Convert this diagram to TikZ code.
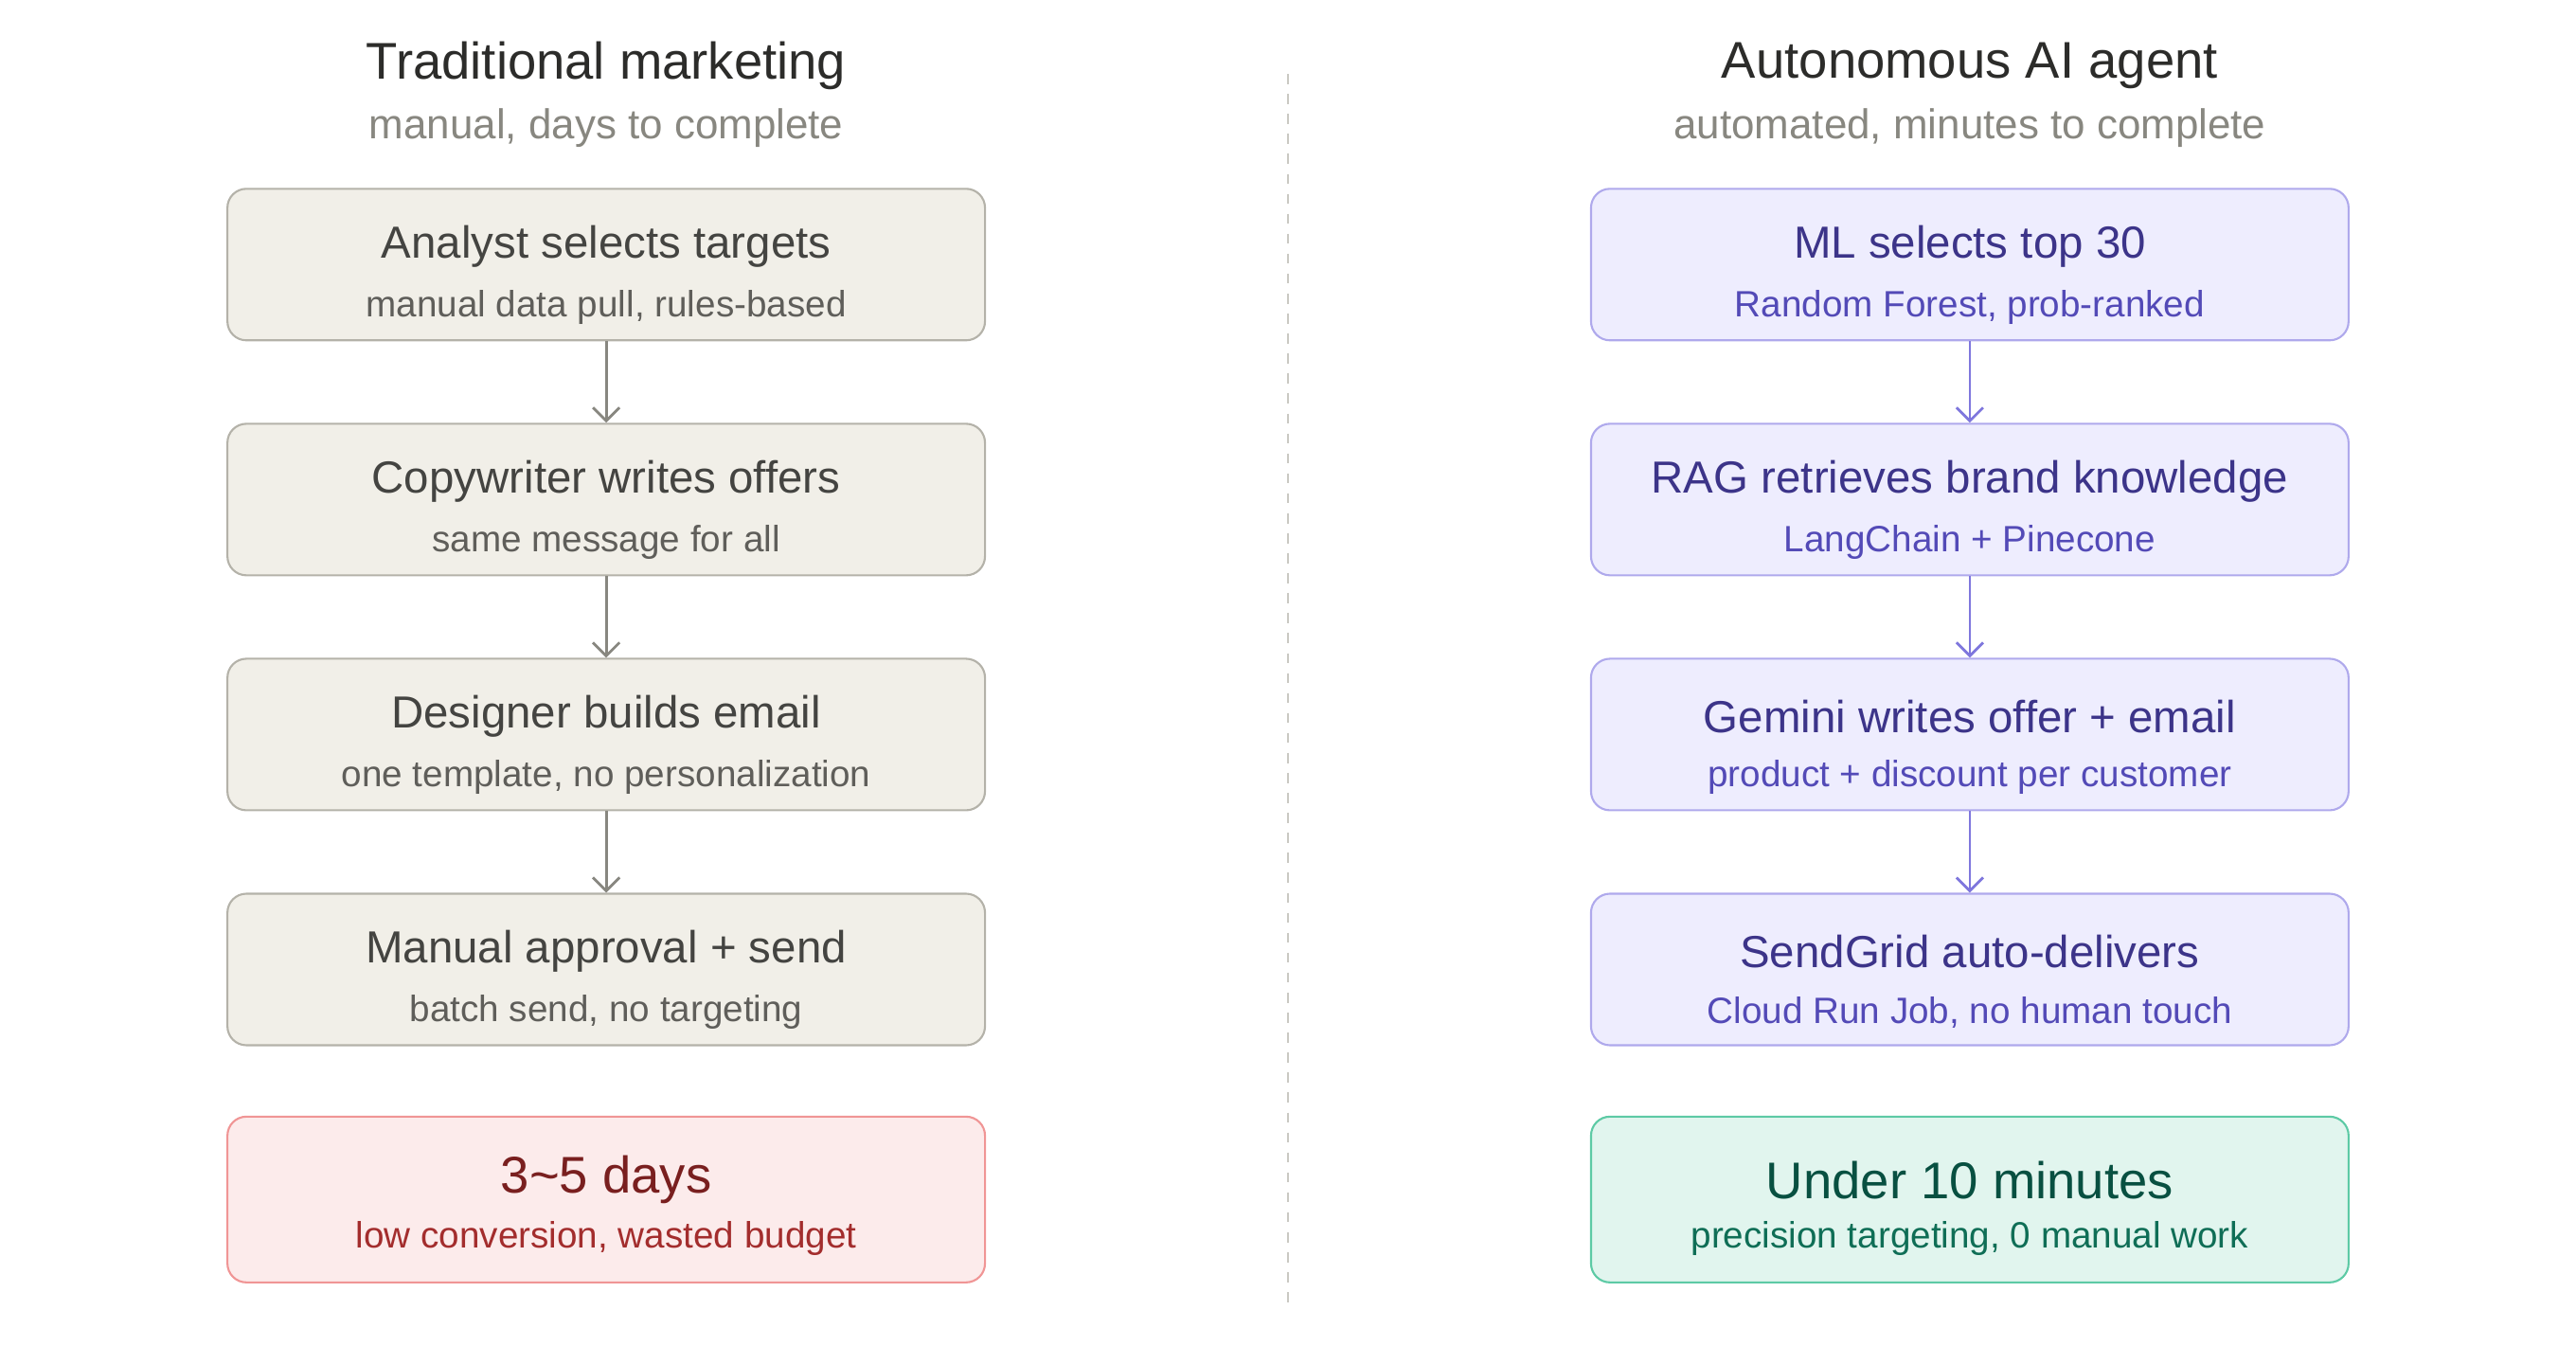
\documentclass[tikz,border=0pt]{standalone}
\usepackage{fontspec}
\setmainfont{Liberation Sans}
\usetikzlibrary{positioning,arrows.meta}
\definecolor{ink}{HTML}{2C2C2A}
\definecolor{mute}{HTML}{888780}
\definecolor{tradfill}{HTML}{F1EFE8}
\definecolor{tradline}{HTML}{B4B2A9}
\definecolor{tradtext}{HTML}{444441}
\definecolor{tradsub}{HTML}{5F5E5A}
\definecolor{aifill}{HTML}{EEEDFE}
\definecolor{ailine}{HTML}{AFA9EC}
\definecolor{aitext}{HTML}{3C3489}
\definecolor{aisub}{HTML}{534AB7}
\definecolor{aiarrow}{HTML}{7F77DD}
\definecolor{badfill}{HTML}{FCEBEB}
\definecolor{badline}{HTML}{F09595}
\definecolor{badtext}{HTML}{791F1F}
\definecolor{badsub}{HTML}{A32D2D}
\definecolor{goodfill}{HTML}{E1F5EE}
\definecolor{goodline}{HTML}{5DCAA5}
\definecolor{goodtext}{HTML}{085041}
\definecolor{goodsub}{HTML}{0F6E56}
\begin{document}
\begin{tikzpicture}[x=0.01735cm,y=-0.01735cm,
  box/.style={rectangle,rounded corners=0.2cm,line width=0.6pt,minimum width=8cm,minimum height=1.6cm},
  trad/.style={box,draw=tradline,fill=tradfill},
  ai/.style={box,draw=ailine,fill=aifill},
  main/.style={font=\fontsize{13.5}{16}\selectfont},
  sub/.style={font=\fontsize{11}{13}\selectfont},
  title/.style={font=\fontsize{15.5}{18}\selectfont,text=ink},
  flow/.style={-{Straight Barb[length=4pt,width=8pt]},line width=0.8pt}]

  \useasboundingbox (0,0) rectangle (1568,830);

  % titles
  \node[title] (tl) at (369,40) {Traditional marketing};
  \node[sub,text=mute,font=\fontsize{12.5}{15}\selectfont] (tls) at (369,78) {manual, days to complete};
  \node[title] (tr) at (1199,40) {Autonomous AI agent};
  \node[sub,text=mute,font=\fontsize{12.5}{15}\selectfont] (trs) at (1199,78) {automated, minutes to complete};

  \coordinate (dtop) at (784,45);
  \coordinate (dbot) at (784,795);
  \draw[tradline!70,dashed,line width=0.5pt] (dtop) -- (dbot);

  % left column
  \foreach \i/\y/\m/\s in {1/161/Analyst selects targets/{manual data pull, rules-based},
      2/304/Copywriter writes offers/same message for all,
      3/447/Designer builds email/{one template, no personalization},
      4/590/Manual approval + send/{batch send, no targeting}}{
    \node[trad] (L\i) at (369,\y) {};
    \node[main,text=tradtext] (L\i m) at (369,\y-11) {\m};
    \node[sub,text=tradsub] (L\i s) at (369,\y+26) {\s};
  }
  % right column
  \foreach \i/\y/\m/\s in {1/161/ML selects top 30/{Random Forest, prob-ranked},
      2/304/RAG retrieves brand knowledge/LangChain + Pinecone,
      3/447/Gemini writes offer + email/product + discount per customer,
      4/590/SendGrid auto-delivers/{Cloud Run Job, no human touch}}{
    \node[ai] (R\i) at (1199,\y) {};
    \node[main,text=aitext] (R\i m) at (1199,\y-11) {\m};
    \node[sub,text=aisub] (R\i s) at (1199,\y+26) {\s};
  }

  \foreach \i/\j in {1/2,2/3,3/4}{
    \draw[flow,mute] (L\i) -- (L\j);
    \draw[flow,aiarrow] (R\i) -- (R\j);
  }

  % results
  \node[box,draw=badline,fill=badfill,minimum height=1.75cm] (Lres) at (369,730) {};
  \node[text=badtext,font=\fontsize{15.5}{18}\selectfont] (Lresm) at (369,718) {3\textasciitilde5 days};
  \node[sub,text=badsub] (Lress) at (369,754) {low conversion, wasted budget};
  \node[box,draw=goodline,fill=goodfill,minimum height=1.75cm] (Rres) at (1199,730) {};
  \node[text=goodtext,font=\fontsize{15.5}{18}\selectfont] (Rresm) at (1199,718) {Under 10 minutes};
  \node[sub,text=goodsub] (Rress) at (1199,754) {precision targeting, 0 manual work};
\end{tikzpicture}
\end{document}
